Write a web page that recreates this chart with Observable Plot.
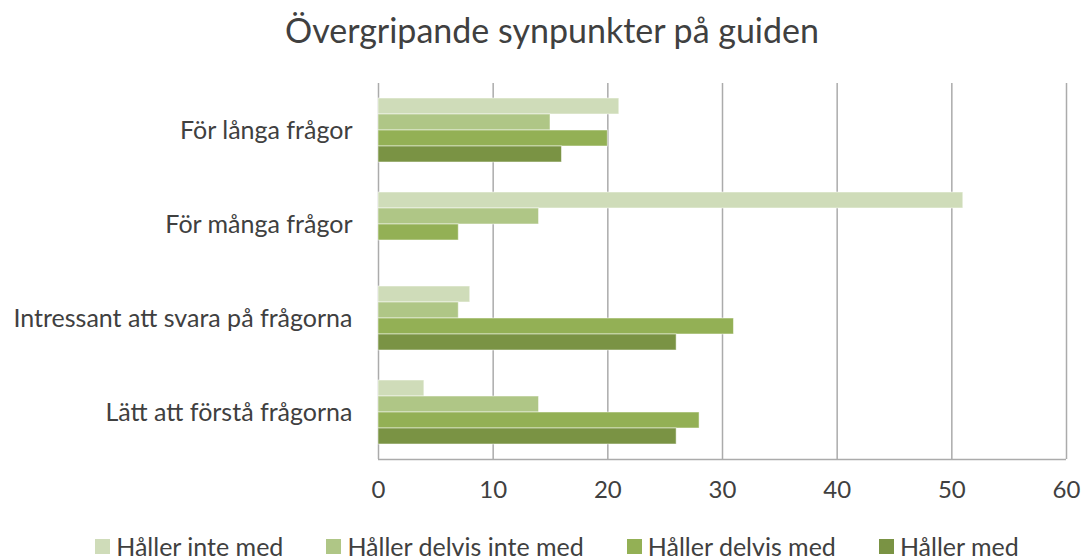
<!DOCTYPE html>
<html><head><meta charset="utf-8">
<script src="https://cdn.jsdelivr.net/npm/d3@7"></script>
<script src="https://cdn.jsdelivr.net/npm/@observablehq/plot@0.6"></script>
<style>
body{margin:0;background:#fff;font-family:Lato,"Open Sans",sans-serif;color:#404040;width:1082px;height:559px;overflow:hidden}
#title{height:60px;line-height:60px;text-align:center;font-size:34px;padding-left:22px;color:#404040}
#legend{display:flex;justify-content:center;gap:43px;height:42px;align-items:center;font-size:25px;line-height:1;color:#404040;padding-left:32px}
#legend .item{display:flex;align-items:center;gap:6px}
#legend .sw{width:15px;height:15px;display:inline-block}
</style></head><body>
<div id="title">Övergripande synpunkter på guiden</div>
<div id="chart"></div>
<div id="legend"></div>
<script>
const categories = ["För långa frågor", "För många frågor", "Intressant att svara på frågorna", "Lätt att förstå frågorna"];
const series = ["Håller inte med", "Håller delvis inte med", "Håller delvis med", "Håller med"];
const hallerInteMed = [21, 51, 8, 4];
const hallerDelvisInteMed = [15, 14, 7, 14];
const hallerDelvisMed = [20, 7, 31, 28];
const hallerMed = [16, null, 26, 26];
const colors = ["#cfdcb9", "#afc686", "#93b055", "#7a9344"];
const xTicks = [0, 10, 20, 30, 40, 50, 60];

const seriesValues = [hallerInteMed, hallerDelvisInteMed, hallerDelvisMed, hallerMed];
const data = [];
categories.forEach((c, ci) => {
  series.forEach((s, si) => {
    const v = seriesValues[si][ci];
    if (v != null) data.push({category: c, series: s, value: v});
  });
});

const chart = Plot.plot({
  width: 1082,
  height: 465,
  marginLeft: 378,
  marginRight: 16,
  marginTop: 23,
  marginBottom: 66,
  style: {fontFamily: "Lato, 'Open Sans', sans-serif", color: "#404040", background: "#fff"},
  x: {domain: [0, 60], ticks: xTicks, label: null},
  y: {domain: series, paddingInner: 0, paddingOuter: 0.92, axis: null},
  fy: {domain: categories, padding: 0, label: null},
  color: {domain: series, range: colors},
  marks: [
    Plot.gridX(xTicks, {stroke: "#ababab", strokeOpacity: 1, strokeWidth: 1.5}),
    Plot.barX(data, {x: "value", y: "series", fy: "category", fill: "series", stroke: "#ffffff", strokeOpacity: 0.5, strokeWidth: 1}),
    Plot.ruleY([{c: categories[3], s: series[3]}], {y: "s", fy: "c", dy: 23, stroke: "#ababab", strokeWidth: 1.5}),
    Plot.axisX(xTicks, {anchor: "bottom", tickSize: 0, tickPadding: 21, fontSize: 24, label: null}),
    Plot.axisFy({anchor: "left", tickSize: 0, tickPadding: 26, fontSize: 25, label: null})
  ]
});
document.getElementById("chart").appendChild(chart);

const legend = document.getElementById("legend");
series.forEach((s, i) => {
  const item = document.createElement("div");
  item.className = "item";
  const sw = document.createElement("span");
  sw.className = "sw";
  sw.style.background = colors[i];
  const t = document.createElement("span");
  t.textContent = s;
  item.appendChild(sw);
  item.appendChild(t);
  legend.appendChild(item);
});
</script>
</body></html>
